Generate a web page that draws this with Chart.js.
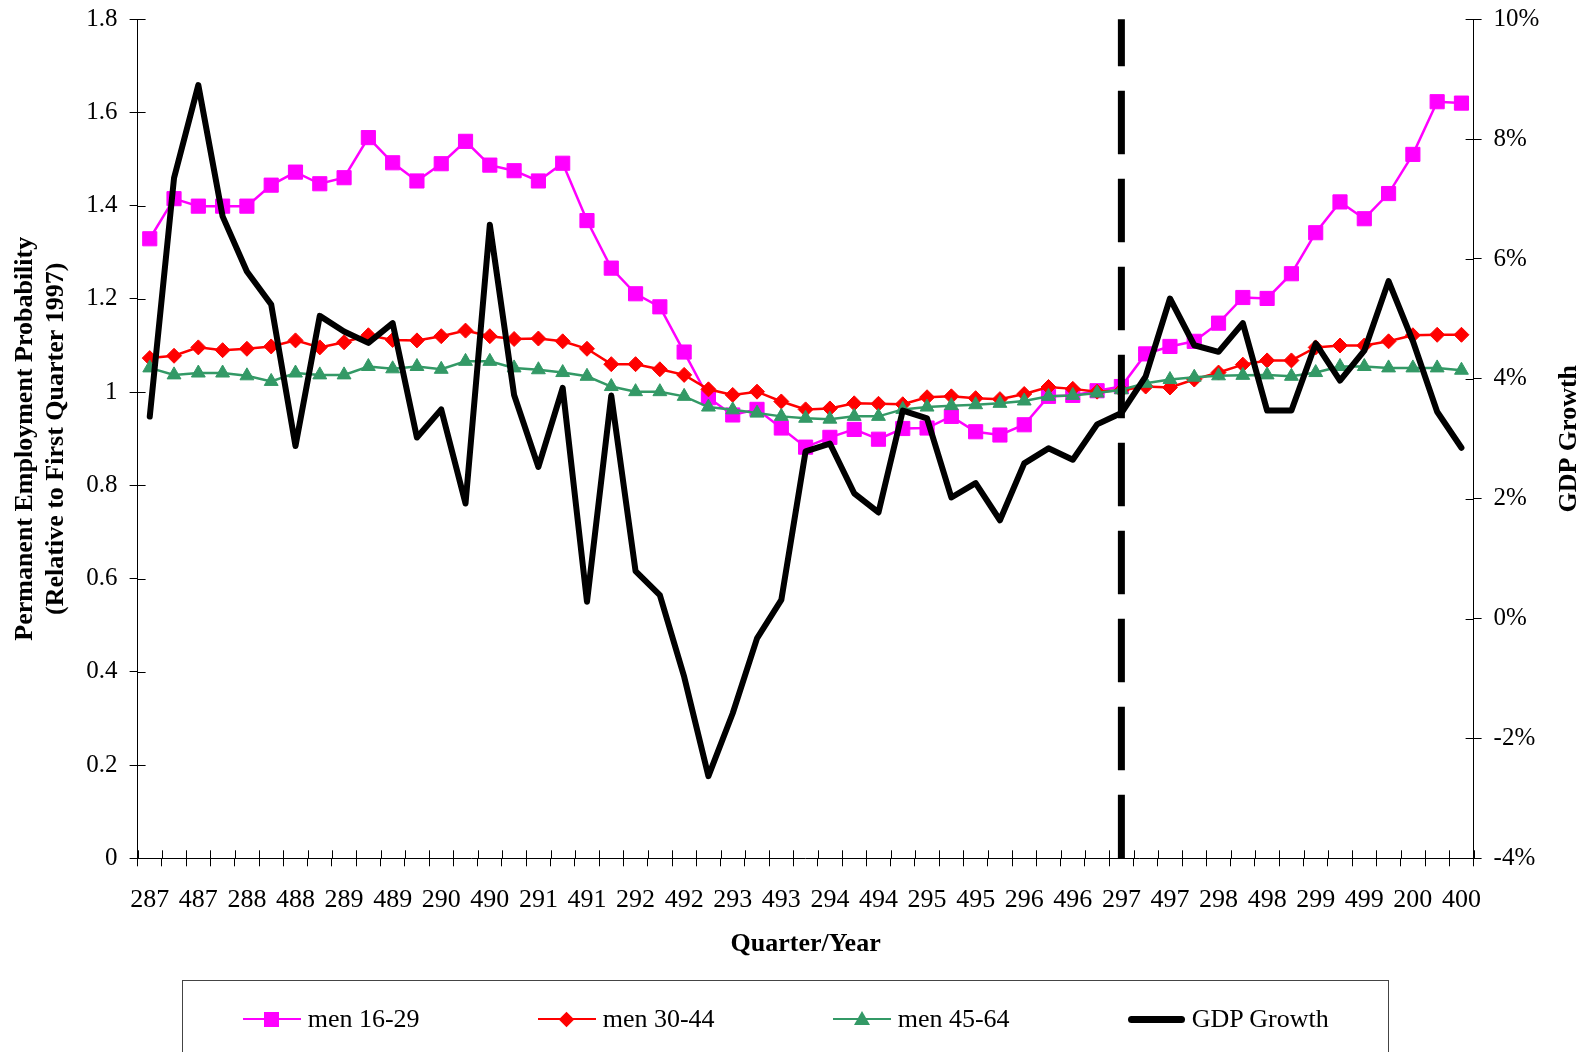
<!DOCTYPE html>
<html>
<head>
<meta charset="utf-8">
<script src="https://cdn.jsdelivr.net/npm/chart.js@4/dist/chart.umd.min.js"></script>
<style>
  html, body { margin: 0; padding: 0; background: #fff; overflow: hidden; }
  #wrap { position: relative; width: 1587px; height: 1052px; overflow: hidden; }
  #c { position: absolute; left: 0; top: 0; }
  #legend { position: absolute; left: 182px; top: 980px; width: 1207px; height: 140px;
            border: 1px solid #444; box-sizing: border-box; background: transparent;
            font-family: "Liberation Serif", "Times New Roman", serif; font-size: 26px; color: #000; }
  .item { position: absolute; top: 23px; height: 30px; display: flex; align-items: center; white-space: nowrap; }
  .sample { position: relative; height: 30px; margin-right: 7px; }
  .sample .ln { position: absolute; left: 0; right: 0; top: 50%; }
  .sample .mk { position: absolute; left: 50%; top: 50%; }
</style>
</head>
<body>
<div id="wrap">
  <canvas id="c" width="1587" height="1052"></canvas>
  <div id="legend"></div>
</div>
<script>
// ---------------- data ----------------
const quarterLabels = ["287","387","487","188","288","388","488","189","289","389","489","190","290","390","490",
  "191","291","391","491","192","292","392","492","193","293","393","493","194","294","394","494",
  "195","295","395","495","196","296","396","496","197","297","397","497","198","298","398","498",
  "199","299","399","499","100","200","300","400"];

const seriesNames = ["men 16-29", "men 30-44", "men 45-64", "GDP Growth"];

const men16_29 = [1.329,1.415,1.399,1.399,1.399,1.444,1.472,1.447,1.460,1.546,
  1.492,1.453,1.490,1.538,1.487,1.475,1.453,1.491,1.368,1.266,
  1.211,1.183,1.086,0.988,0.951,0.963,0.923,0.882,0.903,0.920,
  0.899,0.922,0.923,0.948,0.915,0.908,0.930,0.991,0.993,1.003,
  1.012,1.082,1.098,1.109,1.148,1.203,1.201,1.254,1.342,1.408,
  1.372,1.426,1.510,1.623,1.620];

const men30_44 = [1.073,1.078,1.096,1.090,1.093,1.098,1.111,1.096,1.107,1.122,
  1.112,1.111,1.120,1.132,1.120,1.114,1.115,1.109,1.093,1.060,
  1.060,1.049,1.037,1.006,0.994,1.001,0.980,0.963,0.965,0.976,
  0.975,0.974,0.989,0.991,0.987,0.985,0.996,1.011,1.007,1.001,
  1.004,1.012,1.010,1.027,1.042,1.059,1.068,1.068,1.096,1.100,
  1.100,1.109,1.122,1.123,1.123];

const men45_64 = [1.052,1.037,1.041,1.041,1.035,1.023,1.041,1.037,1.037,1.055,
  1.050,1.055,1.049,1.066,1.066,1.052,1.048,1.042,1.034,1.012,
  1.001,1.001,0.991,0.968,0.962,0.955,0.948,0.944,0.942,0.948,
  0.948,0.963,0.968,0.971,0.973,0.976,0.981,0.991,0.993,0.998,
  1.005,1.019,1.027,1.032,1.035,1.036,1.037,1.034,1.042,1.055,
  1.055,1.052,1.052,1.052,1.047];

// GDP growth, percent
const gdpGrowth = [3.37,7.35,8.90,6.71,5.79,5.24,2.88,5.05,4.79,4.60,
  4.93,3.02,3.49,1.92,6.57,3.73,2.53,3.85,0.28,3.72,
  0.79,0.39,-0.97,-2.63,-1.58,-0.33,0.31,2.79,2.92,2.09,
  1.77,3.47,3.34,2.02,2.26,1.64,2.59,2.84,2.65,3.24,
  3.43,4.04,5.34,4.56,4.45,4.93,3.47,3.47,4.59,3.97,
  4.47,5.63,4.63,3.45,2.85];

const markerLabel = "297";   // quarter where the dashed reference line is drawn

const leftTitle = ["Permanent Employment Probability", "(Relative to First Quarter 1997)"];
const rightTitle = "GDP Growth";
const xTitle = "Quarter/Year";

// ---------------- styling ----------------
const SERIF = '"Liberation Serif", "Times New Roman", serif';
const colors = ["#FF00FF", "#FF0000", "#339966", "#000000"];

const innerTicks = {
  id: 'innerTicks',
  afterDraw(chart) {
    const {ctx, chartArea: a, scales} = chart;
    ctx.save();
    ctx.strokeStyle = '#000';
    ctx.lineWidth = 1;
    ctx.beginPath();
    scales.y.ticks.forEach(t => {
      const y = Math.round(scales.y.getPixelForValue(t.value)) + 0.5;
      ctx.moveTo(a.left, y); ctx.lineTo(a.left + 8, y);
    });
    scales.y2.ticks.forEach(t => {
      const y = Math.round(scales.y2.getPixelForValue(t.value)) + 0.5;
      ctx.moveTo(a.right - 8, y); ctx.lineTo(a.right, y);
    });
    const xs = scales.x;
    const n = quarterLabels.length;
    const half = (xs.getPixelForValue(1) - xs.getPixelForValue(0)) / 2;
    for (let i = 0; i <= n; i++) {
      const x = Math.round(xs.getPixelForValue(0) - half + i * 2 * half) + 0.5;
      ctx.moveTo(x, a.bottom); ctx.lineTo(x, a.bottom - 8);
    }
    ctx.stroke();
    ctx.restore();
  }
};

const refLine = {
  id: 'refLine',
  afterDatasetsDraw(chart) {
    const {ctx, chartArea: a, scales} = chart;
    const x = scales.x.getPixelForValue(quarterLabels.indexOf(markerLabel));
    ctx.save();
    ctx.strokeStyle = '#000';
    ctx.lineWidth = 7;
    ctx.lineCap = 'butt';
    ctx.setLineDash([63.5, 24.5]);
    ctx.beginPath();
    ctx.moveTo(x, a.bottom);
    ctx.lineTo(x, a.top);
    ctx.stroke();
    ctx.restore();
  }
};

const rightTitlePlugin = {
  id: 'rightTitle',
  afterDraw(chart) {
    const {ctx, chartArea: a} = chart;
    ctx.save();
    ctx.translate(1569, (a.top + a.bottom) / 2);
    ctx.rotate(-Math.PI / 2);
    ctx.font = 'bold 26px ' + SERIF;
    ctx.fillStyle = '#000';
    ctx.textAlign = 'center';
    ctx.textBaseline = 'middle';
    ctx.fillText(rightTitle, 0, 0);
    ctx.restore();
  }
};

const chart = new Chart(document.getElementById('c'), {
  type: 'line',
  data: {
    labels: quarterLabels,
    datasets: [
      { label: seriesNames[0], data: men16_29, yAxisID: 'y', borderColor: colors[0], backgroundColor: colors[0],
        borderWidth: 2.5, pointStyle: 'rect', pointRadius: 10, pointBorderWidth: 1, pointBorderColor: colors[0], order: 3 },
      { label: seriesNames[1], data: men30_44, yAxisID: 'y', borderColor: colors[1], backgroundColor: colors[1],
        borderWidth: 2.5, pointStyle: 'rectRot', pointRadius: 7.5, pointBorderWidth: 1, pointBorderColor: colors[1], order: 2 },
      { label: seriesNames[2], data: men45_64, yAxisID: 'y', borderColor: colors[2], backgroundColor: colors[2],
        borderWidth: 2.5, pointStyle: 'triangle', pointRadius: 8, pointBorderWidth: 1, pointBorderColor: colors[2], order: 1 },
      { label: seriesNames[3], data: gdpGrowth, yAxisID: 'y2', borderColor: colors[3], backgroundColor: colors[3],
        borderWidth: 6, pointRadius: 0, borderJoinStyle: 'round', borderCapStyle: 'round', order: 0 }
    ]
  },
  options: {
    responsive: false,
    animation: false,
    devicePixelRatio: 1,
    events: [],
    layout: { padding: { top: 19.2, bottom: 92.4, left: 0, right: 0 } },
    plugins: { legend: { display: false }, tooltip: { enabled: false }, title: { display: false } },
    scales: {
      x: {
        type: 'category',
        offset: true,
        grid: { offset: true, drawOnChartArea: false, drawTicks: true, tickLength: 8, color: '#000', lineWidth: 1 },
        border: { display: true, color: '#000', width: 1 },
        ticks: {
          autoSkip: false, maxRotation: 0, minRotation: 0, padding: 18, color: '#000',
          font: { family: SERIF, size: 26 },
          callback: (v, i) => (i % 2 === 0 ? quarterLabels[v] : '')
        },
        title: { display: true, text: xTitle, color: '#000', font: { family: SERIF, size: 26, weight: 'bold' },
                 padding: { top: 0, bottom: 0 } },
        afterFit: s => { s.height = 101.3; s.paddingLeft = 0; s.paddingRight = 0; }
      },
      y: {
        position: 'left', min: 0, max: 1.8,
        grid: { drawOnChartArea: false, drawTicks: true, tickLength: 8, color: '#000' },
        border: { display: true, color: '#000', width: 1 },
        ticks: { stepSize: 0.2, padding: 12, color: '#000', font: { family: SERIF, size: 25 },
                 callback: v => String(Number(v.toFixed(1))) },
        title: { display: true, text: leftTitle, color: '#000', font: { family: SERIF, size: 26, weight: 'bold' },
                 padding: { top: 9.4, bottom: 0 } },
        afterFit: s => { s.width = 137.6; s.paddingTop = 0; s.paddingBottom = 0; }
      },
      y2: {
        position: 'right', min: -4, max: 10,
        grid: { drawOnChartArea: false, drawTicks: true, tickLength: 8, color: '#000' },
        border: { display: true, color: '#000', width: 1 },
        ticks: { stepSize: 2, padding: 12, color: '#000', font: { family: SERIF, size: 25 },
                 callback: v => Math.round(v) + '%' },
        afterFit: s => { s.width = 113.4; s.paddingTop = 0; s.paddingBottom = 0; }
      }
    }
  },
  plugins: [innerTicks, refLine, rightTitlePlugin]
});

// ---------------- HTML legend built from the datasets ----------------
(function buildLegend() {
  const lg = document.getElementById('legend');
  const starts = [59.7, 354.7, 649.7, 944.7];
  chart.data.datasets.forEach((ds, i) => {
    const item = document.createElement('div');
    item.className = 'item';
    item.style.left = starts[i] + 'px';
    const sample = document.createElement('div');
    sample.className = 'sample';
    const ln = document.createElement('div');
    ln.className = 'ln';
    const col = ds.borderColor;
    if (ds.pointRadius === 0) {
      sample.style.width = '57px';
      ln.style.height = '7px'; ln.style.marginTop = '-3.5px';
      ln.style.borderRadius = '3.5px';
      ln.style.background = col;
      sample.appendChild(ln);
    } else {
      sample.style.width = '58px';
      ln.style.height = '2px'; ln.style.marginTop = '-1px';
      ln.style.background = col;
      sample.appendChild(ln);
      const mk = document.createElement('div');
      mk.className = 'mk';
      if (ds.pointStyle === 'rect') {
        Object.assign(mk.style, { width: '15px', height: '15px', marginLeft: '-7.5px', marginTop: '-7.5px', background: col });
      } else if (ds.pointStyle === 'rectRot') {
        Object.assign(mk.style, { width: '11px', height: '11px', marginLeft: '-5.5px', marginTop: '-5.5px', background: col, transform: 'rotate(45deg)' });
      } else {
        Object.assign(mk.style, { width: '0', height: '0', marginLeft: '-8px', marginTop: '-8px',
          borderLeft: '8px solid transparent', borderRight: '8px solid transparent', borderBottom: '14px solid ' + col });
      }
      sample.appendChild(mk);
    }
    const txt = document.createElement('span');
    txt.textContent = ds.label;
    item.appendChild(sample);
    item.appendChild(txt);
    lg.appendChild(item);
  });
})();
</script>
</body>
</html>
